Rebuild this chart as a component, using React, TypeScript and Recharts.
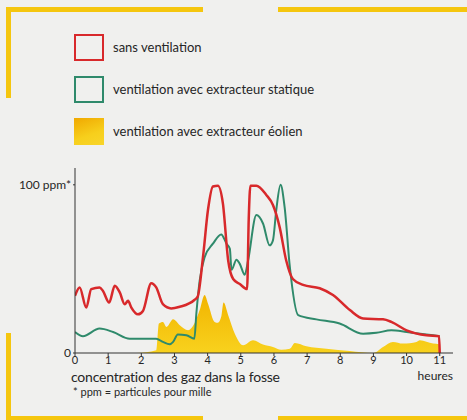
import { ComposedChart, Line, Area, XAxis, YAxis } from 'recharts';

// hours (x) and gas concentration in ppm (y)
const hourTicks = [0, 1, 2, 3, 4, 5, 6, 7, 8, 9, 10, 11];

const redHours = [
  0, 0.14, 0.34, 0.49, 0.74, 0.84, 1.03, 1.2, 1.35, 1.5, 1.6, 1.7, 1.9, 2.05, 2.3, 2.45,
  2.65, 2.9, 3.16, 3.6, 3.7, 3.86, 4.01, 4.16, 4.31, 4.46, 4.62, 4.77, 4.97, 5.19, 5.24,
  5.29, 5.47, 5.77, 5.97, 6.17, 6.37, 6.57, 6.88, 7.38, 7.78, 8.29, 8.69, 9.29, 9.54,
  10.0, 10.6, 10.98, 11,
];
const redValues = [
  34, 39, 27, 38, 39, 37, 30, 40, 36, 29, 31, 27, 23, 25, 41.5, 39,
  29, 26.5, 27.5, 31.5, 33.5, 57, 85, 99, 99.5, 89, 55, 44, 41, 38, 80,
  99.5, 99.5, 94, 88, 75, 55, 44, 40.5, 38.5, 34.5, 25.5, 20.5, 20, 18.5,
  13.5, 10.5, 10, 0,
];

const greenHours = [
  0, 0.24, 0.74, 1.15, 1.65, 2.45, 2.65, 2.86, 2.96, 3.1, 3.36, 3.6, 3.66, 3.76, 3.91,
  4.16, 4.41, 4.57, 4.67, 4.72, 4.87, 4.97, 5.12, 5.22, 5.47, 5.67, 5.87, 5.97, 6.07,
  6.2, 6.32, 6.48, 6.73, 7.28, 7.98, 8.69, 9.09, 9.54, 10.0, 10.6, 11,
];
const greenValues = [
  12.5, 10, 14.5, 12.5, 8.5, 8.5, 6.6, 5.2, 6.6, 11, 10.5, 8.5, 23.5, 43, 57,
  65, 70.5, 65, 62, 49.5, 55.5, 53, 46.5, 55, 82, 77, 64, 67, 85,
  100, 87, 51, 22.5, 20, 17.5, 11.5, 12, 13.5, 12.5, 11, 10,
];

const yellowHours = [
  0, 1.85, 2.45, 2.53, 2.65, 2.76, 2.96, 3.16, 3.41, 3.6, 3.76, 3.91, 4.01, 4.21, 4.31,
  4.41, 4.48, 4.62, 4.82, 5.07, 5.37, 5.67, 5.97, 6.22, 6.48, 6.63, 6.98, 7.58, 8.29,
  8.64, 8.99, 9.29, 9.59, 9.89, 10.3, 10.4, 10.8, 10.98, 11,
];
const yellowValues = [
  0, 0, 1.6, 17.5, 18.5, 15.5, 20, 16.5, 13.5, 17.5, 25.5, 34.5, 29.5, 18.5, 18,
  21.5, 30, 22.5, 11.5, 4.6, 7.6, 5, 3.6, 2, 2.6, 6, 4, 2.6, 1.2,
  0.4, 0, 3.6, 6.6, 5.6, 6.6, 7.6, 5.6, 5.2, 0,
];

const seriesNames = [
  'sans ventilation',
  'ventilation avec extracteur statique',
  'ventilation avec extracteur éolien',
];

const toPoints = (hours: number[], values: number[]) =>
  hours.map((h, i) => ({ h, v: values[i] }));

const redData = toPoints(redHours, redValues);
const greenData = toPoints(greenHours, greenValues);
const yellowData = toPoints(yellowHours, yellowValues);

const RED = '#d8292b';
const GREEN = '#2f8a6b';
const YELLOW = '#f5c60e';
const TEXT = '#262626';
const FONT = 'Lato, "Open Sans", sans-serif';

function Deco({ style }: { style: React.CSSProperties }) {
  return <div style={{ position: 'absolute', background: YELLOW, ...style }} />;
}

function LegendRow({ top, label, swatch }: { top: number; label: string; swatch: React.CSSProperties }) {
  return (
    <>
      <div style={{ position: 'absolute', left: 74, top, width: 30, height: 27, boxSizing: 'border-box', ...swatch }} />
      <div
        style={{
          position: 'absolute',
          left: 113,
          top: top + 5,
          fontSize: 13,
          lineHeight: '17px',
          color: TEXT,
          fontFamily: FONT,
        }}
      >
        {label}
      </div>
    </>
  );
}

export default function App() {
  return (
    <div
      style={{
        position: 'fixed',
        left: 0,
        top: 0,
        width: 467,
        height: 420,
        background: '#f0f0ee',
        overflow: 'hidden',
        fontFamily: FONT,
      }}
    >
      {/* yellow frame pieces */}
      <Deco style={{ left: 6, top: 7, width: 197, height: 5 }} />
      <Deco style={{ left: 6, top: 7, width: 5, height: 91 }} />
      <Deco style={{ left: 278, top: 7, width: 189, height: 5 }} />
      <Deco style={{ left: 6, top: 333, width: 5, height: 87 }} />
      <Deco style={{ left: 6, top: 416, width: 197, height: 4 }} />
      <Deco style={{ left: 278, top: 416, width: 189, height: 4 }} />

      <LegendRow top={34} label={seriesNames[0]} swatch={{ border: `2.5px solid ${RED}` }} />
      <LegendRow top={76} label={seriesNames[1]} swatch={{ border: `2.5px solid ${GREEN}` }} />
      <LegendRow
        top={118}
        label={seriesNames[2]}
        swatch={{ background: 'linear-gradient(160deg, #f0a800 0%, #f7cf1c 60%, #f8d52a 100%)' }}
      />

      <div style={{ position: 'absolute', left: 0, top: 0 }}>
        <ComposedChart width={467} height={420} margin={{ top: 168, right: 14, bottom: 37, left: 5 }}>
          <defs>
            <linearGradient id="eolien" x1="0" y1="0" x2="0" y2="1">
              <stop offset="0%" stopColor="#f2b400" />
              <stop offset="100%" stopColor="#f8d21e" />
            </linearGradient>
          </defs>
          <XAxis
            type="number"
            dataKey="h"
            domain={[0, 11.4]}
            ticks={hourTicks}
            allowDataOverflow
            height={30}
            stroke="#333"
            tickSize={3}
            tickMargin={0}
            tick={{ fill: TEXT, fontSize: 11, fontFamily: FONT }}
          />
          <YAxis
            type="number"
            domain={[0, 110]}
            ticks={[0, 100]}
            allowDataOverflow
            width={70}
            stroke="#333"
            tickSize={2}
            tickMargin={2}
            tickFormatter={(v: number) => (v === 100 ? '100 ppm*' : '0')}
            tick={{ fill: TEXT, fontSize: 12, fontFamily: FONT }}
          />
          <Area
            data={yellowData}
            dataKey="v"
            type="monotone"
            stroke="none"
            fill="url(#eolien)"
            fillOpacity={1}
            isAnimationActive={false}
          />
          <Line
            data={greenData}
            dataKey="v"
            type="monotone"
            stroke={GREEN}
            strokeWidth={2}
            dot={false}
            isAnimationActive={false}
          />
          <Line
            data={redData}
            dataKey="v"
            type="monotone"
            stroke={RED}
            strokeWidth={2.5}
            dot={false}
            isAnimationActive={false}
          />
        </ComposedChart>
      </div>

      <div style={{ position: 'absolute', right: 14, top: 370, fontSize: 12, lineHeight: '12px', color: TEXT }}>
        heures
      </div>
      <div
        style={{
          position: 'absolute',
          left: 71,
          top: 369,
          fontSize: 14,
          lineHeight: '15px',
          letterSpacing: -0.2,
          color: TEXT,
        }}
      >
        concentration des gaz dans la fosse
      </div>
      <div style={{ position: 'absolute', left: 73, top: 386, fontSize: 11, lineHeight: '12px', color: TEXT }}>
        * ppm = particules pour mille
      </div>
    </div>
  );
}
